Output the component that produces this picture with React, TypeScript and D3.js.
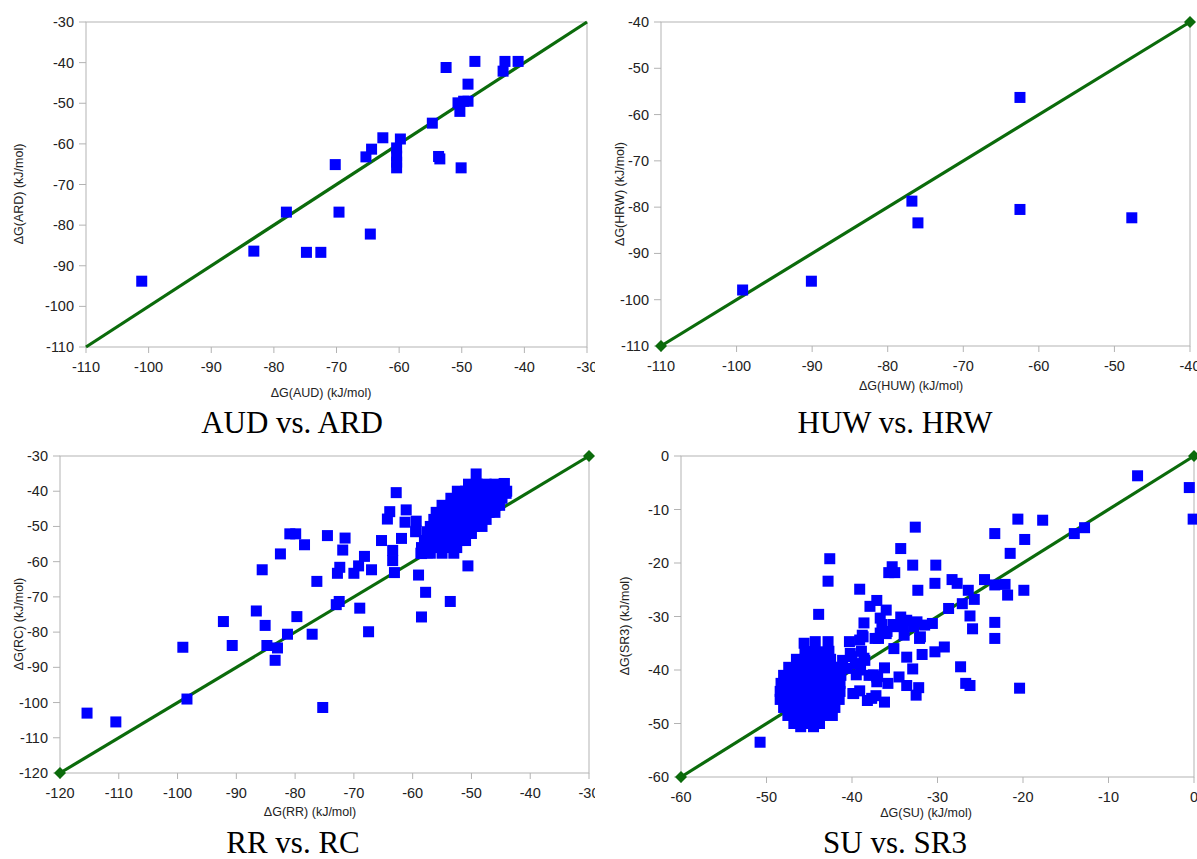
import React from 'react';
import * as d3 from 'd3';

type Pt = [number, number];

// ---------- data ----------
const audArd: Pt[] = [
  [-101.1, -93.8], [-83.2, -86.4], [-78.0, -76.8], [-74.8, -86.7], [-72.5, -86.7],
  [-70.2, -65.1], [-69.6, -76.8], [-64.6, -82.2], [-65.3, -63.2], [-64.4, -61.3],
  [-62.6, -58.5], [-60.4, -61], [-60.4, -63], [-60.4, -64.5], [-60.4, -65.9],
  [-59.8, -58.8], [-54.7, -54.9], [-53.7, -63.1], [-53.5, -63.7], [-52.5, -41.2],
  [-50.6, -49.9], [-50.3, -52], [-49.7, -49.5], [-49, -49.5], [-50.1, -65.9],
  [-49, -45.3], [-47.9, -39.7], [-43.4, -42.1], [-43.1, -39.7], [-41, -39.7],
];

const huwHrw: Pt[] = [
  [-99.2, -97.9], [-90.1, -96], [-76.8, -78.7], [-76, -83.4],
  [-62.5, -56.3], [-62.5, -80.5], [-47.7, -82.3],
];

const rrRc: Pt[] = [
  [-115.4, -103], [-110.5, -105.5], [-99.1, -84.3], [-98.4, -99], [-92.2, -77],
  [-90.7, -83.8], [-86.6, -74], [-85.6, -62.3], [-85.1, -78.1], [-84.8, -83.8],
  [-83.4, -88], [-83, -84.5], [-82.5, -57.8], [-81.3, -80.6], [-80.9, -52.1],
  [-79.9, -52.1], [-79.7, -75.6], [-78.4, -55.2], [-77.1, -80.6], [-76.3, -65.6],
  [-75.3, -101.4], [-74.5, -52.6], [-73, -72.2], [-72.8, -63.3], [-72.5, -71.3],
  [-72.4, -61.6], [-71.9, -56.7], [-71.5, -53.3], [-70, -63.3], [-69.2, -61.2],
  [-69, -73.2], [-68.2, -58.5], [-67.5, -79.9], [-67, -62.3], [-65.3, -54],
  [-64.3, -47.9], [-63.9, -45.8], [-63.4, -56.8], [-63.4, -59.7], [-63.1, -63.1],
  [-62.8, -40.4], [-61.9, -53.4], [-61.3, -48.8], [-61.1, -45.3], [-59.4, -48.5],
  [-59.4, -51.3], [-59, -63.8], [-58.5, -75.7], [-58.5, -57.7], [-57.8, -68.7],
  [-57.4, -54.8], [-57.5, -57.5], [-53.6, -71.3], [-50.6, -61.2], [-49.2, -35.1],
  [-44.4, -37.8], [-44.1, -40.6], [-59.5, -51.5], [-57.5, -51.5],
  // dense cluster
  [-50.5, -38], [-49, -38], [-47.5, -38], [-46, -38], [-44.5, -38],
  [-52.4, -40], [-51, -40], [-49.5, -40], [-48, -40], [-46.5, -40], [-45, -40], [-44, -40],
  [-53.5, -42], [-52, -42], [-50.5, -42], [-49, -42], [-47.5, -42], [-46, -42], [-44.8, -42],
  [-55, -44], [-53.5, -44], [-52, -44], [-50.5, -44], [-49, -44], [-47.5, -44], [-46, -44], [-45.2, -44],
  [-56, -46], [-54.5, -46], [-53, -46], [-51.5, -46], [-50, -46], [-48.5, -46], [-47, -46], [-46, -46],
  [-56.4, -48], [-55, -48], [-53.5, -48], [-52, -48], [-50.5, -48], [-49, -48], [-47.5, -48],
  [-57, -50], [-55.5, -50], [-54, -50], [-52.5, -50], [-51, -50], [-49.5, -50], [-48.2, -50],
  [-57.5, -52], [-56, -52], [-54.5, -52], [-53, -52], [-51.5, -52], [-50, -52],
  [-58, -54], [-56.5, -54], [-55, -54], [-53.5, -54], [-52, -54], [-51, -54],
  [-58.5, -56], [-57, -56], [-55.5, -56], [-54, -56], [-52.5, -56],
  [-58.6, -57.6], [-57, -57.6], [-55, -57.6], [-53, -57.6],
];

const suSr3: Pt[] = [
  [-50.75, -53.5], [-6.6, -3.7], [-0.55, -5.9], [-0.1, -11.8], [-20.6, -11.8],
  [-17.7, -12], [-32.6, -13.3], [-23.3, -14.5], [-14, -14.5], [-12.8, -13.4],
  [-34.3, -17.3], [-19.8, -15.6], [-21.5, -18.2], [-42.6, -19.2], [-32.9, -20.4],
  [-30.2, -20.4], [-35.3, -20.7], [-35.7, -21.8], [-35, -21.8], [-42.8, -23.4],
  [-39.1, -24.9], [-32.3, -25.1], [-30.3, -23.8], [-28.3, -23.1], [-27.7, -23.8],
  [-24.5, -23.1], [-23.3, -24.1], [-22.1, -24], [-21.8, -26], [-19.9, -25.1],
  [-26.4, -25.1], [-25.7, -26.8], [-27.1, -27.6], [-28.7, -28.5], [-26.2, -29.9],
  [-25.9, -32.3], [-23.3, -31.1], [-23.3, -34.1], [-20.4, -43.4], [-27.3, -39.4],
  [-26.7, -42.5], [-26.2, -42.9], [-43.9, -29.6], [-37.9, -28.1], [-37.1, -27],
  [-36, -28.8], [-38.6, -31.2], [-36.7, -30.3], [-36.5, -31.5], [-35.2, -31.5],
  [-34.3, -30.1], [-33.6, -30.7], [-32.4, -31], [-31.5, -31.6], [-30.6, -31.3],
  [-38.7, -33.8], [-36.9, -34.1], [-36, -33.2], [-33.9, -33.5], [-32.1, -34.1],
  [-29.2, -35.7], [-30.3, -36.6], [-35.1, -36], [-33.6, -37.6], [-31.8, -37.1],
  [-40.3, -34.7], [-39.1, -34.4], [-40.2, -36.9], [-38.9, -36.5], [-38.5, -38.2],
  [-36.2, -39.6], [-42.8, -34.7], [-42.7, -36.5], [-45.6, -35], [-44.3, -34.7],
  [-34.5, -41.3], [-32.9, -39.8], [-33.6, -42.9], [-32.2, -43.3], [-32.5, -44.7],
  [-35.8, -42.5], [-37.1, -41.3], [-39.9, -44.4], [-39.1, -43.9], [-38.2, -45.7],
  [-37.2, -44.8], [-36.2, -46], [-42.5, -47.5], [-39.5, -40.9], [-38, -41],
  [-37, -41.2], [-41.1, -38.2], [-42.5, -39.8],
  [-40.6, -39.7], [-39.6, -38.8], [-39, -40], [-37.5, -40.9], [-37.1, -42.2],
  [-38.6, -37.8], [-40, -37.5], [-38.8, -33.5], [-37.3, -34.1], [-36.7, -33.1],
  [-35.9, -32.8], [-34.9, -31.9], [-34, -31.6], [-32.8, -31.9], [-32, -33.8],
  [-37.7, -45.3], [-39.8, -44.4],
  // dense blob
  [-45.5, -36.6], [-44.5, -36.6], [-43.5, -36.6],
  [-46.5, -38], [-45.5, -38], [-44.5, -38], [-43.5, -38], [-42.5, -38],
  [-47.4, -39.5], [-46.4, -39.5], [-45.4, -39.5], [-44.4, -39.5], [-43.4, -39.5], [-42.4, -39.5], [-41.5, -39.5],
  [-48, -41], [-47, -41], [-46, -41], [-45, -41], [-44, -41], [-43, -41], [-42, -41], [-41.3, -41],
  [-48.3, -42.5], [-47.3, -42.5], [-46.3, -42.5], [-45.3, -42.5], [-44.3, -42.5], [-43.3, -42.5], [-42.3, -42.5], [-41.4, -42.5],
  [-48.4, -44], [-47.4, -44], [-46.4, -44], [-45.4, -44], [-44.4, -44], [-43.4, -44], [-42.4, -44], [-41.4, -44],
  [-48.4, -45.5], [-47.4, -45.5], [-46.4, -45.5], [-45.4, -45.5], [-44.4, -45.5], [-43.4, -45.5], [-42.4, -45.5], [-41.5, -45.5],
  [-48, -47], [-47, -47], [-46, -47], [-45, -47], [-44, -47], [-43, -47], [-42, -47],
  [-47.5, -48.5], [-46.5, -48.5], [-45.5, -48.5], [-44.5, -48.5], [-43.5, -48.5], [-42.3, -48.5],
  [-46.8, -50], [-45.8, -50], [-44.8, -50], [-43.8, -50],
  [-46, -50.6], [-44.5, -50.6],
];

const ticksAud = [-110, -100, -90, -80, -70, -60, -50, -40, -30];
const ticksHuw = [-110, -100, -90, -80, -70, -60, -50, -40];
const ticksRr = [-120, -110, -100, -90, -80, -70, -60, -50, -40, -30];
const ticksSu = [-60, -50, -40, -30, -20, -10, 0];

const diagAud: Pt[] = [[-110, -110], [-30, -30]];
const diagHuw: Pt[] = [[-110, -110], [-40, -40]];
const diagRr: Pt[] = [[-120, -120], [-30, -30]];
const diagSu: Pt[] = [[-60, -60], [0, 0]];

// ---------- layout ----------
interface Spec {
  id: string;
  data: Pt[];
  diag: Pt[];
  ticks: number[];
  domain: [number, number];
  xr: [number, number];
  yr: [number, number];
  clip: [number, number, number, number];
  xTitle: string;
  yTitle: string;
  caption: string;
  xTitlePos: [number, number];
  yTitlePos: [number, number];
  capPos: [number, number];
  diamonds: boolean;
}

const specs: Spec[] = [
  {
    id: 'p1', data: audArd, diag: diagAud, ticks: ticksAud, domain: [-110, -30],
    xr: [86, 587], yr: [347, 22], clip: [0, 0, 595, 440],
    xTitle: 'ΔG(AUD) (kJ/mol)', yTitle: 'ΔG(ARD) (kJ/mol)', caption: 'AUD vs. ARD',
    xTitlePos: [321, 393], yTitlePos: [19, 194], capPos: [292, 433], diamonds: false,
  },
  {
    id: 'p2', data: huwHrw, diag: diagHuw, ticks: ticksHuw, domain: [-110, -40],
    xr: [661, 1190], yr: [346, 22], clip: [597, 0, 600, 440],
    xTitle: 'ΔG(HUW) (kJ/mol)', yTitle: 'ΔG(HRW) (kJ/mol)', caption: 'HUW vs. HRW',
    xTitlePos: [911, 386], yTitlePos: [620, 194], capPos: [895, 433], diamonds: true,
  },
  {
    id: 'p3', data: rrRc, diag: diagRr, ticks: ticksRr, domain: [-120, -30],
    xr: [60, 589], yr: [773, 456], clip: [0, 440, 595, 419],
    xTitle: 'ΔG(RR) (kJ/mol)', yTitle: 'ΔG(RC) (kJ/mol)', caption: 'RR vs. RC',
    xTitlePos: [310, 812], yTitlePos: [19, 624], capPos: [293, 853], diamonds: true,
  },
  {
    id: 'p4', data: suSr3, diag: diagSu, ticks: ticksSu, domain: [-60, 0],
    xr: [681, 1194], yr: [777, 456], clip: [597, 440, 600, 419],
    xTitle: 'ΔG(SU) (kJ/mol)', yTitle: 'ΔG(SR3) (kJ/mol)', caption: 'SU vs. SR3',
    xTitlePos: [926, 813], yTitlePos: [625, 626], capPos: [895, 853], diamonds: true,
  },
];

const SANS = '"Liberation Sans", Arial, sans-serif';
const SERIF = '"Liberation Serif", "Times New Roman", serif';
const AXIS = '#b3b3b3';
const GREEN = '#0b6b0b';
const BLUE = '#0000ff';
const MS = 11;

function Panel({ s }: { s: Spec }) {
  const x = d3.scaleLinear().domain(s.domain).range(s.xr);
  const y = d3.scaleLinear().domain(s.domain).range(s.yr);
  const [xl, xrr] = s.xr;
  const [yb, yt] = s.yr;
  const line = d3.line<Pt>().x((d) => x(d[0])).y((d) => y(d[1]));
  const [cx, cy, cw, ch] = s.clip;
  return (
    <g clipPath={`url(#clip-${s.id})`}>
      <defs>
        <clipPath id={`clip-${s.id}`}>
          <rect x={cx} y={cy} width={cw} height={ch} />
        </clipPath>
      </defs>
      <rect x={xl} y={yt} width={xrr - xl} height={yb - yt} fill="none" stroke={AXIS} strokeWidth={1} />
      {s.ticks.map((t) => (
        <g key={`x${t}`}>
          <line x1={x(t)} x2={x(t)} y1={yb} y2={yb + 6} stroke={AXIS} />
          <text x={x(t)} y={yb + 20} textAnchor="middle" dominantBaseline="central"
            fontFamily={SANS} fontSize={14.5} fill="#222">{t}</text>
        </g>
      ))}
      {s.ticks.map((t) => (
        <g key={`y${t}`}>
          <line x1={xl - 7} x2={xl} y1={y(t)} y2={y(t)} stroke={AXIS} />
          <text x={xl - 12} y={y(t)} textAnchor="end" dominantBaseline="central"
            fontFamily={SANS} fontSize={14.5} fill="#222">{t}</text>
        </g>
      ))}
      <path d={line(s.diag) || ''} stroke={GREEN} strokeWidth={3.2} fill="none" />
      {s.diamonds && s.diag.map((d, i) => {
        const px = x(d[0]);
        const py = y(d[1]);
        return <path key={`d${i}`} d={`M${px},${py - 6}L${px + 6},${py}L${px},${py + 6}L${px - 6},${py}Z`} fill={GREEN} />;
      })}
      {s.data.map((d, i) => (
        <rect key={i} x={x(d[0]) - MS / 2} y={y(d[1]) - MS / 2} width={MS} height={MS} fill={BLUE} />
      ))}
      <text x={s.xTitlePos[0]} y={s.xTitlePos[1]} textAnchor="middle" dominantBaseline="central"
        fontFamily={SANS} fontSize={12.5} fill="#222">{s.xTitle}</text>
      <text transform={`translate(${s.yTitlePos[0]},${s.yTitlePos[1]}) rotate(-90)`} textAnchor="middle"
        dominantBaseline="central" fontFamily={SANS} fontSize={12.5} fill="#222">{s.yTitle}</text>
      <text x={s.capPos[0]} y={s.capPos[1]} textAnchor="middle" fontFamily={SERIF} fontSize={31} fill="#000">
        {s.caption}
      </text>
    </g>
  );
}

export default function App() {
  return (
    <svg width={1197} height={859} style={{ position: 'absolute', left: 0, top: 0, display: 'block', background: '#fff' }}>
      <rect x={0} y={0} width={1197} height={859} fill="#fff" />
      {specs.map((s) => (
        <Panel key={s.id} s={s} />
      ))}
    </svg>
  );
}
